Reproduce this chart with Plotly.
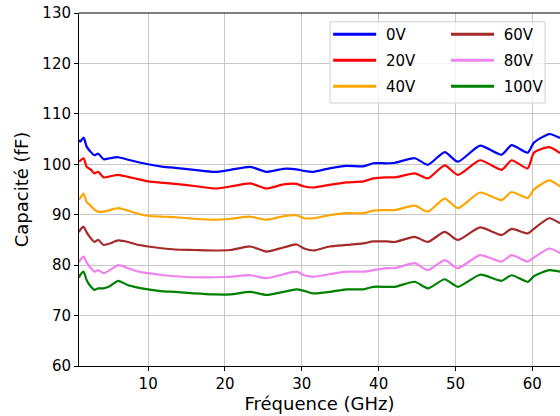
import plotly.graph_objects as go

freq = [1.0, 1.15, 1.6, 2.0, 2.5, 3.0, 3.5, 4.2, 5.0, 6.1, 7.4, 8.5, 10, 12, 13.5, 16, 18.7,
        20.7, 23.3, 25.4, 27.6, 29.3, 30.3, 31.5, 33.6, 35.8, 38, 39.3, 41, 42.1, 44.7,
        46.4, 48.6, 50.3, 53.2, 56, 57.3, 59.4, 60.2, 62.2, 63.6]

c_0v = [104.8, 104.5, 105.3, 103.5, 102.5, 101.8, 102.1, 101.0, 101.2, 101.4, 100.9, 100.5,
        100.0, 99.5, 99.3, 98.9, 98.5, 98.9, 99.5, 98.5, 99.1, 99.0, 98.7, 98.5, 99.2, 99.7,
        99.6, 100.2, 100.2, 100.3, 101.2, 99.9, 102.4, 100.5, 103.7, 101.9, 103.8, 102.3,
        104.3, 106.0, 105.2]
c_20v = [100.5, 100.7, 101.2, 99.5, 99.0, 98.2, 98.5, 97.4, 97.6, 97.9, 97.5, 97.1, 96.6,
         96.3, 96.1, 95.7, 95.2, 95.6, 96.2, 95.2, 96.0, 96.1, 95.6, 95.4, 95.9, 96.4, 96.6,
         97.2, 97.4, 97.4, 98.2, 97.2, 99.8, 97.9, 100.8, 98.9, 100.8, 99.2, 102.3, 103.4, 102.2]
c_40v = [93.0, 93.3, 94.2, 92.5, 91.8, 91.0, 90.6, 90.6, 90.9, 91.3, 90.8, 90.3, 89.8, 89.6,
         89.5, 89.2, 89.0, 89.2, 89.6, 89.0, 89.7, 89.9, 89.3, 89.3, 89.9, 90.3, 90.3, 90.8,
         90.9, 90.9, 91.8, 90.6, 93.2, 91.3, 94.4, 92.9, 94.5, 93.3, 95.0, 96.8, 95.6]
c_60v = [86.5, 87.0, 87.6, 86.5, 85.4, 84.6, 85.0, 84.0, 84.3, 84.9, 84.6, 84.1, 83.7, 83.3,
         83.1, 83.0, 82.9, 83.0, 83.7, 82.7, 83.5, 84.1, 83.3, 82.9, 83.7, 84.0, 84.3, 84.7,
         84.7, 84.6, 85.6, 84.6, 86.6, 85.0, 87.5, 86.0, 87.2, 86.3, 87.2, 89.3, 88.3]
c_80v = [80.5, 81.0, 81.7, 80.5, 79.5, 78.7, 79.0, 78.4, 79.0, 80.0, 79.4, 78.8, 78.4, 78.0,
         77.8, 77.6, 77.6, 77.7, 78.0, 77.4, 78.2, 78.7, 78.0, 77.7, 78.2, 78.7, 78.7, 79.0,
         79.4, 79.4, 80.4, 79.0, 81.0, 79.4, 82.0, 80.7, 82.0, 80.7, 81.5, 83.3, 82.4]
c_100v = [77.5, 78.0, 78.7, 77.0, 75.8, 75.1, 75.4, 75.4, 75.8, 76.9, 76.0, 75.6, 75.2, 74.8,
          74.7, 74.4, 74.2, 74.2, 74.7, 74.1, 74.7, 75.2, 74.9, 74.4, 74.7, 75.2, 75.2, 75.7,
          75.7, 75.7, 76.7, 75.4, 77.2, 75.7, 78.1, 76.9, 78.0, 76.7, 77.8, 79.0, 78.7]

series = [("0V", c_0v, "blue", "legend"), ("20V", c_20v, "red", "legend"),
          ("40V", c_40v, "orange", "legend"), ("60V", c_60v, "brown", "legend2"),
          ("80V", c_80v, "violet", "legend2"), ("100V", c_100v, "green", "legend2")]

fig = go.Figure()
for name, vals, col, leg in series:
    fig.add_trace(go.Scatter(x=freq, y=vals, mode="lines", showlegend=False,
                             line=dict(color=col, width=2.2, shape="spline", smoothing=0.6)))
# legend entries (thicker sample lines)
for name, vals, col, leg in series:
    fig.add_trace(go.Scatter(x=[None], y=[None], mode="lines", name=" " + name, legend=leg,
                             legendgroup=name, line=dict(color=col, width=3)))

# legend frame
fig.add_shape(type="rect", xref="paper", yref="paper", x0=0.522, x1=0.969, y0=0.745, y1=0.975,
              line=dict(color="#d0d0d0", width=1), fillcolor="rgba(255,255,255,0.8)", layer="above")

axis_common = dict(showline=True, linecolor="black", linewidth=1, mirror=False,
                   ticks="outside", ticklen=4, tickcolor="black", automargin=False,
                   ticklabeloverflow="allow",
                   showgrid=True, gridcolor="#c8c8c8", gridwidth=1, zeroline=False,
                   tickfont=dict(size=15, color="black"))

leg_common = dict(y=0.986, xanchor="left", yanchor="top", bgcolor="rgba(0,0,0,0)",
                  font=dict(size=15), traceorder="grouped", tracegroupgap=3.5, itemwidth=43)

fig.update_layout(
    width=560, height=416,
    margin=dict(l=79, r=0, t=13, b=50),
    plot_bgcolor="white", paper_bgcolor="white",
    font=dict(family="DejaVu Sans", size=15, color="black"),
    xaxis=dict(range=[1, 63.6], dtick=10, title=dict(text="Fréquence (GHz)", standoff=4),
               **axis_common),
    yaxis=dict(range=[60, 130], dtick=10, title=dict(text="Capacité (fF)", standoff=9),
               **axis_common),
    legend=dict(x=0.518, **leg_common),
    legend2=dict(x=0.763, **leg_common),
)
# top border
fig.add_shape(type="line", xref="paper", yref="paper", x0=0, x1=1, y0=1, y1=1,
              line=dict(color="black", width=1))

# drop the default 8px page margin so the figure fills the window
fig.write_html("out.html", config={"displayModeBar": False},
               post_script="document.body.style.margin='0';")
